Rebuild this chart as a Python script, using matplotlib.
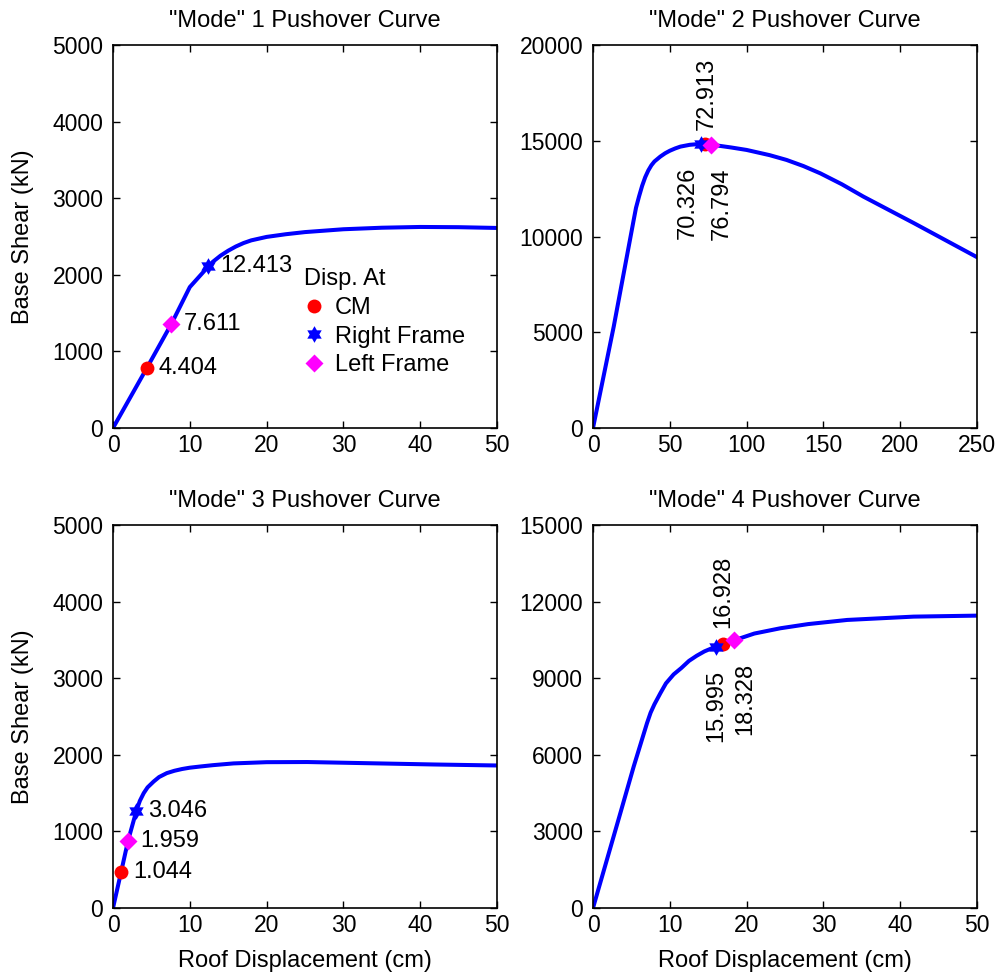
import numpy as np
import matplotlib.pyplot as plt
from matplotlib.path import Path

plt.rcParams['font.family'] = ['Liberation Sans', 'DejaVu Sans']

# Mode 1
m1_x = [0, 4.404, 7.611, 10, 12.413, 13, 14, 15, 16, 17, 18, 20, 22.5, 25, 30, 35, 40, 45, 50]
m1_y = [0, 783, 1361, 1840, 2109, 2170, 2250, 2315, 2370, 2415, 2450, 2495, 2530, 2558, 2595, 2615, 2625, 2622, 2612]
m1_pts = {'CM': (4.404, 783), 'Right Frame': (12.413, 2109), 'Left Frame': (7.611, 1361)}

# Mode 2
m2_x = [0, 13.5, 26.5, 28, 30, 32, 34, 36, 38, 40, 43.8, 47, 50, 53.5, 56.9, 63, 70.326, 72.913, 76.794,
        90, 100, 115, 126, 137, 148, 162, 176, 209, 250]
m2_y = [0, 5300, 10870, 11500, 12100, 12650, 13100, 13450, 13720, 13920, 14174, 14350, 14480, 14600, 14696,
        14790, 14840, 14840, 14800, 14650, 14522, 14250, 14000, 13680, 13300, 12730, 12087, 10696, 8922]
m2_pts = {'CM': (72.913, 14840), 'Right Frame': (70.326, 14840), 'Left Frame': (76.794, 14800)}

# Mode 3
m3_x = [0, 1.044, 1.959, 3.046, 3.5, 4.0, 4.5, 5.3, 6, 7.0, 8, 9, 10, 11.4, 13, 15.7, 20, 25.3, 33, 41.8, 50]
m3_y = [0, 465, 878, 1270, 1400, 1500, 1575, 1652, 1710, 1761, 1792, 1815, 1832, 1848, 1865, 1888, 1904,
        1906, 1891, 1874, 1861]
m3_pts = {'CM': (1.044, 465), 'Right Frame': (3.046, 1270), 'Left Frame': (1.959, 878)}

# Mode 4
m4_x = [0, 3.56, 5.3, 7.03, 7.5, 8, 8.77, 9.5, 10.5, 11.5, 12.5, 13.5, 14.5, 15.995, 16.928, 18.328,
        21, 24.4, 28, 33.1, 41.75, 50]
m4_y = [0, 3717, 5543, 7239, 7650, 7980, 8413, 8800, 9150, 9400, 9680, 9880, 10050, 10240, 10330, 10480,
        10750, 10957, 11120, 11283, 11413, 11452]
m4_pts = {'CM': (16.928, 10330), 'Right Frame': (15.995, 10240), 'Left Frame': (18.328, 10480)}

# six pointed star (hexagram) like matlab
ang = np.pi / 2 + np.arange(12) * np.pi / 6
rad = np.where(np.arange(12) % 2 == 0, 1.0, 0.577)
hexv = np.column_stack([rad * np.cos(ang), rad * np.sin(ang)])
hexagram = Path(np.vstack([hexv, hexv[:1]]), closed=True)

styles = {'CM': dict(marker='o', color='red', ms=10),
          'Right Frame': dict(marker=hexagram, color='blue', ms=12),
          'Left Frame': dict(marker='D', color='magenta', ms=9)}

fig = plt.figure(figsize=(10, 9.77), dpi=100)
pos = [[0.113, 0.5619, 0.384, 0.392], [0.593, 0.5619, 0.384, 0.392],
       [0.113, 0.0706, 0.384, 0.392], [0.593, 0.0706, 0.384, 0.392]]
curves = [(m1_x, m1_y, m1_pts), (m2_x, m2_y, m2_pts), (m3_x, m3_y, m3_pts), (m4_x, m4_y, m4_pts)]
xlims = [(0, 50), (0, 250), (0, 50), (0, 50)]
xticks = [np.arange(0, 51, 10), np.arange(0, 251, 50), np.arange(0, 51, 10), np.arange(0, 51, 10)]
ylims = [(0, 5000), (0, 20000), (0, 5000), (0, 15000)]
yticks = [np.arange(0, 5001, 1000), np.arange(0, 20001, 5000), np.arange(0, 5001, 1000), np.arange(0, 15001, 3000)]

axes = []
for i in range(4):
    ax = fig.add_axes(pos[i])
    axes.append(ax)
    x, y, pts = curves[i]
    ax.plot(x, y, color='blue', lw=2.9, zorder=2)
    for k in ['CM', 'Right Frame', 'Left Frame']:
        ax.plot([pts[k][0]], [pts[k][1]], ls='none', mec='none', label=k, zorder=3, **styles[k])
    ax.set_xlim(*xlims[i])
    ax.set_ylim(*ylims[i])
    ax.set_xticks(xticks[i])
    ax.set_yticks(yticks[i])
    ax.tick_params(direction='in', top=True, right=True, length=5, width=1, labelsize=16.5)
    ax.tick_params(axis='y', pad=7)
    ax.tick_params(axis='x', pad=4)
    for s in ax.spines.values():
        s.set_linewidth(1.2)
    ax.set_title('"Mode" %d Pushover Curve' % (i + 1), fontsize=17, pad=13)
    if i % 2 == 0:
        ax.set_ylabel('Base Shear (kN)', fontsize=17, labelpad=13)
    if i >= 2:
        ax.set_xlabel('Roof Displacement (cm)', fontsize=17, labelpad=10)

# horizontal labels (modes 1 and 3)
for i in [0, 2]:
    pts = curves[i][2]
    for k in ['CM', 'Right Frame', 'Left Frame']:
        axes[i].annotate('%.3f' % pts[k][0], xy=pts[k], xytext=(8.5, 0), textcoords='offset points',
                         ha='left', va='center', fontsize=17)

# rotated labels (modes 2 and 4)
offs2 = {'CM': (1.5, 10, 'bottom'), 'Right Frame': (-9.5, -16.5, 'top'), 'Left Frame': (8, -16.5, 'top')}
offs4 = {'CM': (0, 11.5, 'bottom'), 'Right Frame': (0.5, -16.5, 'top'), 'Left Frame': (8.5, -16.5, 'top')}
for i, offs in [(1, offs2), (3, offs4)]:
    pts = curves[i][2]
    for k in ['CM', 'Right Frame', 'Left Frame']:
        dx, dy, va = offs[k]
        axes[i].annotate('%.3f' % pts[k][0], xy=pts[k], xytext=(dx, dy), textcoords='offset points',
                         ha='center', va=va, rotation=90, fontsize=17)

axes[0].legend(title='Disp. At', loc='upper left', bbox_to_anchor=(0.498, 0.417), frameon=False,
               fontsize=17, title_fontsize=17, alignment='left', borderpad=0, handlelength=0.8,
               handletextpad=0.5, labelspacing=0.28, borderaxespad=0)

fig.savefig('out.png', dpi=100, facecolor='white')
